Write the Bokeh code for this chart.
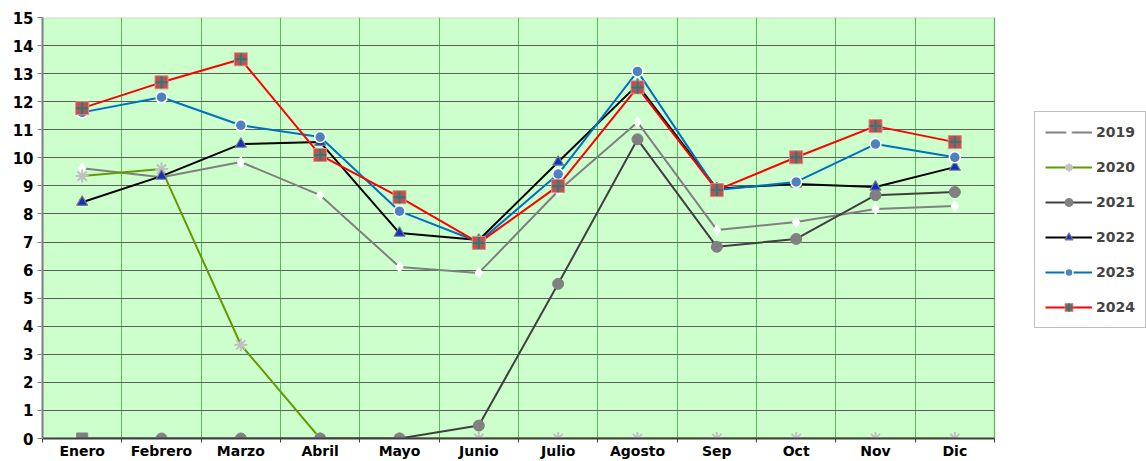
from bokeh.plotting import figure
from bokeh.models import FixedTicker, Range1d, Legend, LegendItem, BoxAnnotation
from bokeh.embed import file_html
from bokeh.resources import INLINE

months = ["Enero", "Febrero", "Marzo", "Abril", "Mayo", "Junio", "Julio",
          "Agosto", "Sep", "Oct", "Nov", "Dic"]
v2019 = [9.63, 9.31, 9.85, 8.67, 6.11, 5.90, 8.82, 11.27, 7.43, 7.71, 8.18, 8.28]
v2020 = [9.35, 9.60, 3.34, 0, 0, 0, 0, 0, 0, 0, 0, 0]
v2021 = [0, 0, 0, 0, 0, 0.46, 5.51, 10.66, 6.83, 7.11, 8.67, 8.78]
v2022 = [8.42, 9.35, 10.49, 10.56, 7.32, 7.07, 9.85, 12.60, 8.90, 9.07, 8.96, 9.67]
v2023 = [11.62, 12.16, 11.16, 10.74, 8.10, 7.00, 9.42, 13.08, 8.85, 9.14, 10.49, 10.02]
v2024 = [11.77, 12.69, 13.51, 10.10, 8.60, 6.97, 9.00, 12.51, 8.85, 10.02, 11.13, 10.56]
yticks = list(range(0, 16))

n = len(months)
xs = list(range(1, n + 1))
FONT = "DejaVu Sans"

W, H = 1146, 461
LEFT = 42
PLOT_W = 952          # pixel width of the plotting area proper
frame_w = W - LEFT
x_end = 0.5 + n * frame_w / PLOT_W

p = figure(width=W, height=H, output_backend="svg", toolbar_location=None,
           x_range=Range1d(0.5, x_end), y_range=Range1d(0, 15),
           min_border_left=LEFT, min_border_top=17, min_border_right=0,
           min_border_bottom=20)
p.background_fill_color = "white"
p.border_fill_color = "white"
p.outline_line_color = None

bg = BoxAnnotation(left=0.5, right=n + 0.5, fill_color="#CCFFCC", fill_alpha=1,
                   line_color="#999999", line_width=2, level="image")
p.add_layout(bg)

# grids
p.xgrid.ticker = FixedTicker(ticks=[i + 0.5 for i in range(0, n + 1)])
p.xgrid.grid_line_color = "#5CB85C"
p.xgrid.grid_line_width = 1
p.ygrid.ticker = FixedTicker(ticks=yticks)
p.ygrid.grid_line_color = "#5E5E5E"
p.ygrid.grid_line_width = 1
p.ygrid.cross_bounds = (0.5, n + 0.5)

# axes
p.xaxis.bounds = (0.5, n + 0.5)
p.xaxis.ticker = FixedTicker(ticks=xs, minor_ticks=[i + 0.5 for i in range(0, n + 1)])
p.xaxis.major_label_overrides = {i + 1: m for i, m in enumerate(months)}
p.xaxis.major_tick_out = 0
p.xaxis.major_tick_in = 0
p.xaxis.minor_tick_out = 4
p.xaxis.minor_tick_in = 0
p.xaxis.minor_tick_line_color = "#404040"
p.xaxis.axis_line_color = "#404040"
p.xaxis.axis_line_width = 2
p.xaxis.major_label_standoff = 0
p.xaxis.major_label_text_font = FONT
p.xaxis.major_label_text_font_style = "bold"
p.xaxis.major_label_text_font_size = "14px"
p.xaxis.major_label_text_color = "black"

p.yaxis.ticker = FixedTicker(ticks=yticks)
p.yaxis.major_tick_out = 5
p.yaxis.major_tick_in = 0
p.yaxis.minor_tick_out = 0
p.yaxis.minor_tick_in = 0
p.yaxis.major_tick_line_color = "#808080"
p.yaxis.axis_line_color = "#808080"
p.yaxis.axis_line_width = 2
p.yaxis.major_label_standoff = 4
p.yaxis.major_label_text_font = FONT
p.yaxis.major_label_text_font_style = "bold"
p.yaxis.major_label_text_font_size = "15px"
p.yaxis.major_label_text_color = "black"

items = []

# 2019
l = p.line(xs, v2019, line_color="#808080", line_width=2)
s = p.scatter(xs, v2019, marker="diamond", size=11, fill_color="white", line_color="white")
items.append(LegendItem(label="2019", renderers=[l, s]))

# 2020
l = p.line(xs, v2020, line_color="#669900", line_width=2)
s = p.scatter(xs, v2020, marker="asterisk", size=13, line_color="#C0C0C0", line_width=2)
items.append(LegendItem(label="2020", renderers=[l, s]))

# 2021 (first point drawn as a square, as in the original)
l = p.line(xs, v2021, line_color="#404040", line_width=2)
s = p.scatter(xs[1:], v2021[1:], marker="circle", size=11, fill_color="#808080", line_color="#808080")
p.scatter(xs[:1], v2021[:1], marker="square", size=11, fill_color="#808080", line_color="#808080")
items.append(LegendItem(label="2021", renderers=[l, s]))

# 2022
l = p.line(xs, v2022, line_color="black", line_width=2)
s = p.scatter(xs, v2022, marker="triangle", size=11, fill_color="#1030C8", line_color="#7F7F7F", line_width=1.2)
items.append(LegendItem(label="2022", renderers=[l, s]))

# 2023
l = p.line(xs, v2023, line_color="#0070C0", line_width=2)
s = p.scatter(xs, v2023, marker="circle", size=11, fill_color="#4F81BD", line_color="white", line_width=1.5)
items.append(LegendItem(label="2023", renderers=[l, s]))

# 2024
l = p.line(xs, v2024, line_color="#FF0000", line_width=2)
s1 = p.scatter(xs, v2024, marker="square", size=13, fill_color="#C0504D", line_color="#D98C8A", line_width=1)
s2 = p.scatter(xs, v2024, marker="cross", size=12, line_color="#1F7F7F", line_width=2)
items.append(LegendItem(label="2024", renderers=[l, s1, s2]))

legend = Legend(items=items, location=(992, 110))
legend.margin = 0
legend.padding = 10
legend.spacing = 15
legend.glyph_width = 47
legend.glyph_height = 20
legend.label_height = 20
legend.label_standoff = 4
legend.label_text_font = FONT
legend.label_text_font_style = "bold"
legend.label_text_font_size = "14px"
legend.border_line_color = "#808080"
legend.border_line_width = 1
legend.background_fill_color = "white"
legend.background_fill_alpha = 1
p.add_layout(legend, "center")

open("out.html", "w").write(file_html(p, INLINE))
